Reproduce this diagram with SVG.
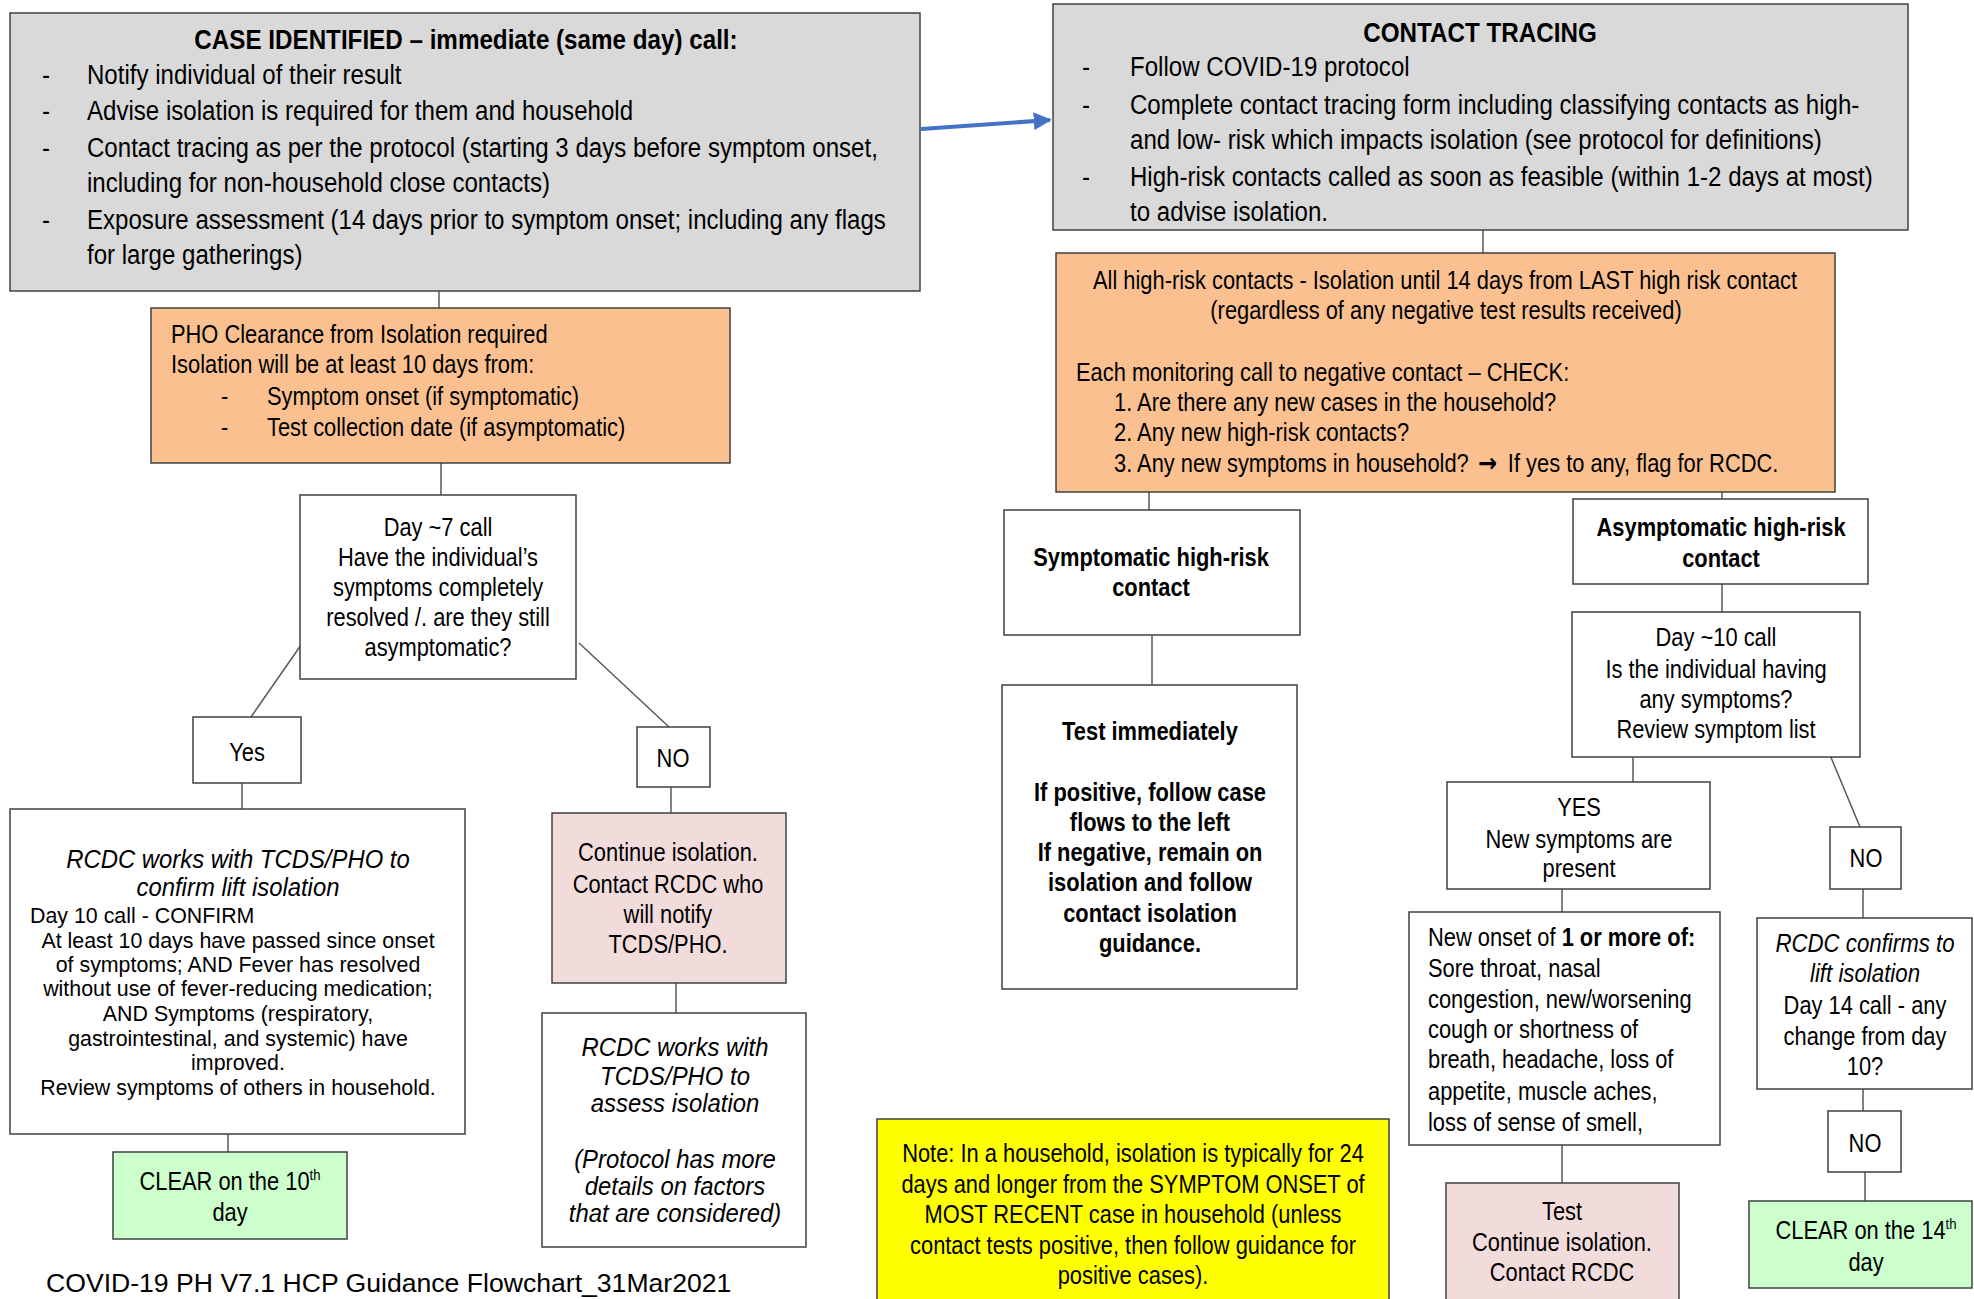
<svg xmlns="http://www.w3.org/2000/svg" width="1974" height="1299" viewBox="0 0 1974 1299">
<defs>
<marker id="blueArrow" viewBox="0 0 10 10" refX="9" refY="5" markerWidth="4.5" markerHeight="4.5" orient="auto" markerUnits="strokeWidth">
<path d="M0,0 L10,5 L0,10 z" fill="#4472c4"/>
</marker>
</defs>
<style>
text{font-family:"Liberation Sans",Arial,sans-serif;fill:#000;transform-box:fill-box;transform-origin:left center;transform:scaleX(0.875)}
text.c{transform-origin:center}
.box{stroke:#404040;stroke-width:1.5}
.gray{fill:#d9d9d9}
.orange{fill:#fac090}
.white{fill:#ffffff}
.pink{fill:#f2dcdb}
.green{fill:#ccffcc}
.yellow{fill:#ffff00}
.g{font-size:28px;transform:scaleX(0.86)}
.gb{font-size:28px;font-weight:bold;transform:scaleX(0.865)}
.b{font-size:25px}
.bb{font-size:25px;font-weight:bold}
.s{font-size:23px;transform:scaleX(0.93)}
.i{font-style:italic}
.il{transform:scaleX(0.955)}
.ir{transform:scaleX(0.89)}
.c{text-anchor:middle}
.conn line{stroke:#595959;stroke-width:1.5}
.sup{font-size:15px}
.arr{font-family:"DejaVu Sans",sans-serif;font-weight:bold;font-size:26px}
.foot{font-size:26.6px;transform:none}
</style>
<rect width="1974" height="1299" fill="#ffffff"/>

<g id="connectors" class="conn">
<line x1="439" y1="291" x2="439" y2="308"/>
<line x1="441" y1="463" x2="441" y2="495"/>
<line x1="301" y1="645" x2="251" y2="717"/>
<line x1="579" y1="643" x2="669" y2="727"/>
<line x1="242" y1="783" x2="242" y2="809"/>
<line x1="671" y1="787" x2="671" y2="813"/>
<line x1="228" y1="1134" x2="228" y2="1152"/>
<line x1="676" y1="983" x2="676" y2="1013"/>
<line x1="1483" y1="230" x2="1483" y2="253"/>
<line x1="1149" y1="492" x2="1149" y2="510"/>
<line x1="1722" y1="478" x2="1722" y2="499"/>
<line x1="1152" y1="635" x2="1152" y2="685"/>
<line x1="1722" y1="584" x2="1722" y2="612"/>
<line x1="1633" y1="757" x2="1633" y2="782"/>
<line x1="1830" y1="755" x2="1860" y2="827"/>
<line x1="1562" y1="889" x2="1562" y2="912"/>
<line x1="1562" y1="1145" x2="1562" y2="1183"/>
<line x1="1863" y1="889" x2="1863" y2="918"/>
<line x1="1863" y1="1089" x2="1863" y2="1111"/>
<line x1="1865" y1="1172" x2="1865" y2="1201"/>
<line x1="357" y1="118" x2="357" y2="137" style="stroke-width:1"/>
<line x1="568" y1="145" x2="568" y2="158" style="stroke-width:1"/>
<line x1="1238" y1="287" x2="1238" y2="300" style="stroke-width:1"/>
<line x1="921" y1="129" x2="1050" y2="120" style="stroke:#4472c4;stroke-width:4" marker-end="url(#blueArrow)"/>
</g>

<g id="case-identified">
<rect class="box gray" x="10" y="13" width="910" height="278"/>
<text class="gb c" x="466" y="49">CASE IDENTIFIED – immediate (same day) call:</text>
<text class="g" x="42" y="84">-</text><text class="g" x="87" y="84">Notify individual of their result</text>
<text class="g" x="42" y="120">-</text><text class="g" x="87" y="120">Advise isolation is required for them and household</text>
<text class="g" x="42" y="157">-</text><text class="g" x="87" y="157">Contact tracing as per the protocol (starting 3 days before symptom onset,</text>
<text class="g" x="87" y="192">including for non-household close contacts)</text>
<text class="g" x="42" y="229">-</text><text class="g" x="87" y="229">Exposure assessment (14 days prior to symptom onset; including any flags</text>
<text class="g" x="87" y="264">for large gatherings)</text>
</g>

<g id="pho-clearance">
<rect class="box orange" x="151" y="308" width="579" height="155"/>
<text class="b" x="171" y="343">PHO Clearance from Isolation required</text>
<text class="b" x="171" y="373">Isolation will be at least 10 days from:</text>
<text class="b" x="221" y="405">-</text><text class="b" x="267" y="405">Symptom onset (if symptomatic)</text>
<text class="b" x="221" y="436">-</text><text class="b" x="267" y="436">Test collection date (if asymptomatic)</text>
</g>

<g id="day7-call">
<rect class="box white" x="300" y="495" width="276" height="184"/>
<text class="b c" x="438" y="536">Day ~7 call</text>
<text class="b c" x="438" y="566">Have the individual’s</text>
<text class="b c" x="438" y="596">symptoms completely</text>
<text class="b c" x="438" y="626">resolved /. are they still</text>
<text class="b c" x="438" y="656">asymptomatic?</text>
</g>

<g id="yes-left">
<rect class="box white" x="193" y="717" width="108" height="66"/>
<text class="b c" x="247" y="761">Yes</text>
</g>

<g id="no-left">
<rect class="box white" x="637" y="727" width="73" height="60"/>
<text class="b c" x="673" y="767">NO</text>
</g>

<g id="rcdc-confirm-lift">
<rect class="box white" x="10" y="809" width="455" height="325"/>
<text class="b i il c" x="238" y="868">RCDC works with TCDS/PHO to</text>
<text class="b i il c" x="238" y="896">confirm lift isolation</text>
<text class="s" x="30" y="923">Day 10 call - CONFIRM</text>
<text class="s c" x="238" y="948">At least 10 days have passed since onset</text>
<text class="s c" x="238" y="972">of symptoms; AND Fever has resolved</text>
<text class="s c" x="238" y="996">without use of fever-reducing medication;</text>
<text class="s c" x="238" y="1021">AND Symptoms (respiratory,</text>
<text class="s c" x="238" y="1046">gastrointestinal, and systemic) have</text>
<text class="s c" x="238" y="1070">improved.</text>
<text class="s c" x="238" y="1095">Review symptoms of others in household.</text>
</g>

<g id="clear-10th">
<rect class="box green" x="113" y="1152" width="234" height="87"/>
<text class="b c" x="230" y="1190">CLEAR on the 10<tspan class="sup" dy="-10">th</tspan></text>
<text class="b c" x="230" y="1221">day</text>
</g>

<g id="continue-isolation-left">
<rect class="box pink" x="552" y="813" width="234" height="170"/>
<text class="b c" x="668" y="861">Continue isolation.</text>
<text class="b c" x="668" y="893">Contact RCDC who</text>
<text class="b c" x="668" y="923">will notify</text>
<text class="b c" x="668" y="953">TCDS/PHO.</text>
</g>

<g id="rcdc-assess">
<rect class="box white" x="542" y="1013" width="264" height="234"/>
<text class="b i il c" x="675" y="1056">RCDC works with</text>
<text class="b i il c" x="675" y="1085">TCDS/PHO to</text>
<text class="b i il c" x="675" y="1112">assess isolation</text>
<text class="b i il c" x="675" y="1168">(Protocol has more</text>
<text class="b i il c" x="675" y="1195">details on factors</text>
<text class="b i il c" x="675" y="1222">that are considered)</text>
</g>

<g id="footer">
<text class="foot" x="46" y="1292">COVID-19 PH V7.1 HCP Guidance Flowchart_31Mar2021</text>
</g>

<g id="contact-tracing">
<rect class="box gray" x="1053" y="4" width="855" height="226"/>
<text class="gb c" x="1480" y="42">CONTACT TRACING</text>
<text class="g" x="1082" y="76">-</text><text class="g" x="1130" y="76">Follow COVID-19 protocol</text>
<text class="g" x="1082" y="114">-</text><text class="g" x="1130" y="114">Complete contact tracing form including classifying contacts as high-</text>
<text class="g" x="1130" y="149">and low- risk which impacts isolation (see protocol for definitions)</text>
<text class="g" x="1082" y="186">-</text><text class="g" x="1130" y="186">High-risk contacts called as soon as feasible (within 1-2 days at most)</text>
<text class="g" x="1130" y="221">to advise isolation.</text>
</g>

<g id="high-risk-isolation">
<rect class="box orange" x="1056" y="253" width="779" height="239"/>
<text class="b c" x="1445" y="289">All high-risk contacts - Isolation until 14 days from LAST high risk contact</text>
<text class="b c" x="1446" y="319">(regardless of any negative test results received)</text>
<text class="b" x="1076" y="381">Each monitoring call to negative contact – CHECK:</text>
<text class="b" x="1114" y="411">1. Are there any new cases in the household?</text>
<text class="b" x="1114" y="441">2. Any new high-risk contacts?</text>
<text class="b" x="1114" y="472">3. Any new symptoms in household? <tspan class="arr" dx="4">→</tspan><tspan dx="12">If yes to any, flag for RCDC.</tspan></text>
</g>

<g id="symptomatic-contact">
<rect class="box white" x="1004" y="510" width="296" height="125"/>
<text class="bb c" x="1151" y="566">Symptomatic high-risk</text>
<text class="bb c" x="1151" y="596">contact</text>
</g>

<g id="test-immediately">
<rect class="box white" x="1002" y="685" width="295" height="304"/>
<text class="bb c" x="1150" y="740">Test immediately</text>
<text class="bb c" x="1150" y="801">If positive, follow case</text>
<text class="bb c" x="1150" y="831">flows to the left</text>
<text class="bb c" x="1150" y="861">If negative, remain on</text>
<text class="bb c" x="1150" y="891">isolation and follow</text>
<text class="bb c" x="1150" y="922">contact isolation</text>
<text class="bb c" x="1150" y="952">guidance.</text>
</g>

<g id="asymptomatic-contact">
<rect class="box white" x="1573" y="499" width="295" height="85"/>
<text class="bb c" x="1721" y="536">Asymptomatic high-risk</text>
<text class="bb c" x="1721" y="567">contact</text>
</g>

<g id="day10-call">
<rect class="box white" x="1572" y="612" width="288" height="145"/>
<text class="b c" x="1716" y="646">Day ~10 call</text>
<text class="b c" x="1716" y="678">Is the individual having</text>
<text class="b c" x="1716" y="708">any symptoms?</text>
<text class="b c" x="1716" y="738">Review symptom list</text>
</g>

<g id="yes-right">
<rect class="box white" x="1447" y="782" width="263" height="107"/>
<text class="b c" x="1579" y="816">YES</text>
<text class="b c" x="1579" y="848">New symptoms are</text>
<text class="b c" x="1579" y="877">present</text>
</g>

<g id="no-right-1">
<rect class="box white" x="1830" y="827" width="71" height="62"/>
<text class="b c" x="1866" y="867">NO</text>
</g>

<g id="new-onset">
<rect class="box white" x="1409" y="912" width="311" height="233"/>
<text class="b" x="1428" y="946">New onset of <tspan font-weight="bold">1 or more of:</tspan></text>
<text class="b" x="1428" y="977">Sore throat, nasal</text>
<text class="b" x="1428" y="1008">congestion, new/worsening</text>
<text class="b" x="1428" y="1038">cough or shortness of</text>
<text class="b" x="1428" y="1068">breath, headache, loss of</text>
<text class="b" x="1428" y="1100">appetite, muscle aches,</text>
<text class="b" x="1428" y="1131">loss of sense of smell,</text>
</g>

<g id="test-continue-right">
<rect class="box pink" x="1446" y="1183" width="233" height="120"/>
<text class="b c" x="1562" y="1220">Test</text>
<text class="b c" x="1562" y="1251">Continue isolation.</text>
<text class="b c" x="1562" y="1281">Contact RCDC</text>
</g>

<g id="rcdc-confirms-lift">
<rect class="box white" x="1757" y="918" width="215" height="171"/>
<text class="b i ir c" x="1865" y="952">RCDC confirms to</text>
<text class="b i ir c" x="1865" y="982">lift isolation</text>
<text class="b c" x="1865" y="1014">Day 14 call - any</text>
<text class="b c" x="1865" y="1045">change from day</text>
<text class="b c" x="1865" y="1075">10?</text>
</g>

<g id="no-right-2">
<rect class="box white" x="1828" y="1111" width="73" height="61"/>
<text class="b c" x="1865" y="1152">NO</text>
</g>

<g id="clear-14th">
<rect class="box green" x="1749" y="1201" width="223" height="87"/>
<text class="b c" x="1866" y="1239">CLEAR on the 14<tspan class="sup" dy="-10">th</tspan></text>
<text class="b c" x="1866" y="1271">day</text>
</g>

<g id="household-note">
<rect class="box yellow" x="877" y="1119" width="512" height="190"/>
<text class="b c" x="1133" y="1162">Note: In a household, isolation is typically for 24</text>
<text class="b c" x="1133" y="1193">days and longer from the SYMPTOM ONSET of</text>
<text class="b c" x="1133" y="1223">MOST RECENT case in household (unless</text>
<text class="b c" x="1133" y="1254">contact tests positive, then follow guidance for</text>
<text class="b c" x="1133" y="1284">positive cases).</text>
</g>
</svg>
